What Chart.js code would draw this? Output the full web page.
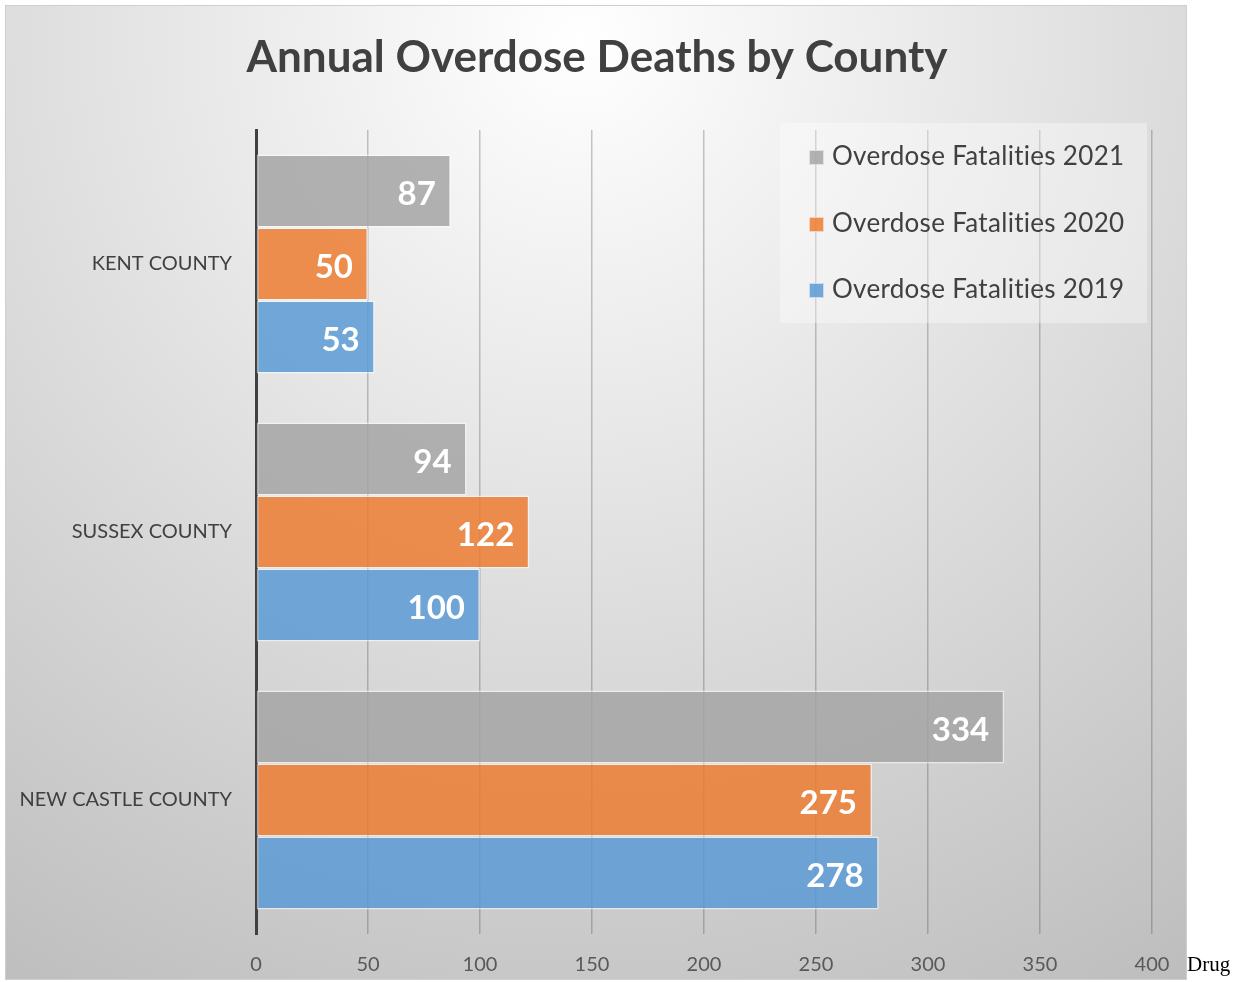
<!DOCTYPE html>
<html>
<head>
<meta charset="utf-8">
<script src="https://cdn.jsdelivr.net/npm/chart.js@4.4.1/dist/chart.umd.min.js"></script>
<style>
  html, body { margin: 0; padding: 0; background: #fff; }
  #wrap { position: relative; width: 1240px; height: 982px; }
  #note { position: absolute; left: 1187px; top: 952px; font: 21px "Liberation Serif", serif; color: #000; }
</style>
</head>
<body>
<div id="wrap">
  <canvas id="chart" width="1240" height="982"></canvas>
  <span id="note">Drug</span>
</div>
<script>
// chart data
const counties = ['KENT COUNTY', 'SUSSEX COUNTY', 'NEW CASTLE COUNTY'];
const deaths2021 = [87, 94, 334];
const deaths2020 = [50, 122, 275];
const deaths2019 = [53, 100, 278];
const xTicks = [0, 50, 100, 150, 200, 250, 300, 350, 400];
const chartTitle = 'Annual Overdose Deaths by County';

const FONT = 'Lato, "Open Sans", sans-serif';

// background panel with radial shading
const backdrop = {
  id: 'backdrop',
  beforeDraw(chart) {
    const c = chart.ctx;
    c.save();
    const g = c.createRadialGradient(580, 40, 0, 580, 40, 1120);
    g.addColorStop(0, '#ffffff');
    g.addColorStop(1, '#bdbdbd');
    c.fillStyle = g;
    c.fillRect(5, 5, 1182, 975);
    c.strokeStyle = '#cfcfcf';
    c.lineWidth = 1;
    c.strokeRect(5.5, 5.5, 1181, 974);
    c.fillStyle = '#404040';
    c.font = 'bold 44px ' + FONT;
    c.textAlign = 'center';
    c.textBaseline = 'middle';
    c.fillText(chartTitle, 597, 58);
    c.restore();
  }
};

// value labels inside bar ends
const barLabels = {
  id: 'barLabels',
  afterDatasetsDraw(chart) {
    const c = chart.ctx;
    c.save();
    c.fillStyle = '#ffffff';
    c.font = 'bold 33px ' + FONT;
    c.textAlign = 'right';
    c.textBaseline = 'middle';
    chart.data.datasets.forEach((ds, i) => {
      chart.getDatasetMeta(i).data.forEach((bar, j) => {
        c.fillText(String(ds.data[j]), bar.x - 15, bar.y + 3);
      });
    });
    c.restore();
  }
};

// legend box in top right of plot
const legendBox = {
  id: 'legendBox',
  afterDatasetsDraw(chart) {
    const c = chart.ctx;
    c.save();
    c.fillStyle = 'rgba(255,255,255,0.35)';
    c.fillRect(780, 123, 367, 200);
    c.font = '26px ' + FONT;
    c.letterSpacing = '0.3px';
    c.textBaseline = 'middle';
    c.textAlign = 'left';
    const rows = [157, 224, 290];
    chart.data.datasets.forEach((ds, i) => {
      c.fillStyle = ds.backgroundColor;
      c.fillRect(809, rows[i] - 7, 15, 15);
      c.strokeStyle = 'rgba(255,255,255,0.6)';
      c.lineWidth = 1;
      c.strokeRect(809.5, rows[i] - 6.5, 14, 14);
      c.fillStyle = '#404040';
      c.fillText(ds.label, 832, rows[i]);
    });
    c.restore();
  }
};

new Chart(document.getElementById('chart'), {
  type: 'bar',
  data: {
    labels: counties,
    datasets: [
      { label: 'Overdose Fatalities 2021', data: deaths2021, backgroundColor: 'rgba(165,165,165,0.85)' },
      { label: 'Overdose Fatalities 2020', data: deaths2020, backgroundColor: 'rgba(237,125,49,0.85)' },
      { label: 'Overdose Fatalities 2019', data: deaths2019, backgroundColor: 'rgba(91,155,213,0.85)' }
    ].map(d => Object.assign(d, {
      borderColor: 'rgba(255,255,255,0.55)',
      borderWidth: 1.5,
      borderSkipped: false,
      barPercentage: 1,
      categoryPercentage: 0.817
    }))
  },
  options: {
    indexAxis: 'y',
    responsive: false,
    animation: false,
    layout: { padding: { top: 130, right: 88, left: 0, bottom: 0 } },
    plugins: {
      legend: { display: false },
      title: { display: false },
      tooltip: { enabled: false }
    },
    scales: {
      x: {
        min: 0,
        max: 400,
        afterBuildTicks(scale) { scale.ticks = xTicks.map(v => ({ value: v })); },
        afterFit(scale) { scale.height = 48; },
        grid: {
          color: ctx => ctx.tick && ctx.tick.value === 0 ? 'rgba(0,0,0,0)' : 'rgba(70,70,70,0.3)',
          lineWidth: 1.5,
          drawTicks: false
        },
        border: { display: false },
        ticks: { color: '#595959', font: { family: FONT, size: 20 }, padding: 19 }
      },
      y: {
        afterFit(scale) { scale.width = 256; },
        grid: { display: false },
        border: { display: true, color: '#404040', width: 3 },
        ticks: { color: '#404040', font: { family: FONT, size: 20 }, padding: 16 }
      }
    }
  },
  plugins: [backdrop, barLabels, legendBox]
});
</script>
</body>
</html>
